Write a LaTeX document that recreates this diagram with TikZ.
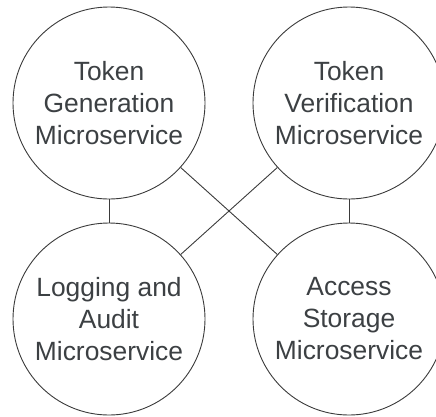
\documentclass[tikz,border=0pt]{standalone}
\usepackage{fontspec}
\setmainfont{Liberation Sans}
\definecolor{txt}{HTML}{3C4043}
\definecolor{ln}{HTML}{3A3A3A}
\begin{document}
\begin{tikzpicture}[x=1pt,y=-1pt,
  svc/.style={circle,draw=ln,line width=0.9pt,minimum size=192pt,inner sep=0pt,
    align=center,text=txt,font=\fontsize{26.4}{32}\selectfont},
  link/.style={draw=ln,line width=0.9pt}]
\clip (0,0) rectangle (436,416);
\useasboundingbox (0,0) rectangle (436,416);
\node[svc] (gen) at (109,103) {Token\\Generation\\Microservice};
\node[svc] (ver) at (349,103) {Token\\Verification\\Microservice};
\node[svc] (log) at (109,319) {Logging and\\Audit\\Microservice};
\node[svc] (acc) at (349,319) {Access\\Storage\\Microservice};
\draw[link] (gen) -- (log);
\draw[link] (ver) -- (acc);
\draw[link] (gen) -- (acc);
\draw[link] (ver) -- (log);
\end{tikzpicture}
\end{document}
